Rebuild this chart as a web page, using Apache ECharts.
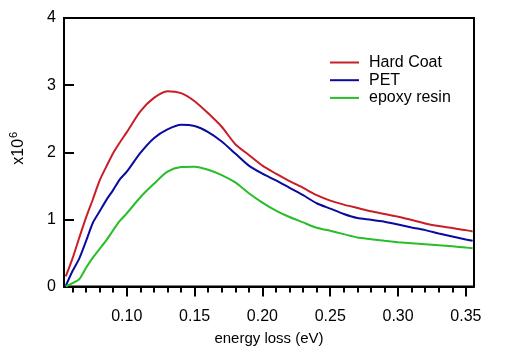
<!DOCTYPE html>
<html>
<head>
<meta charset="utf-8">
<script src="https://cdn.jsdelivr.net/npm/echarts@6/dist/echarts.min.js"></script>
<style>html,body{margin:0;padding:0;background:#fff}#c{width:510px;height:359px}</style>
</head>
<body>
<div id="c"></div>
<script>
const energy = [0.055,0.06,0.065,0.07,0.075,0.08,0.085,0.09,0.095,0.10,0.11,0.12,0.13,0.14,0.15,0.16,0.17,0.18,0.19,0.20,0.21,0.22,0.23,0.24,0.25,0.26,0.27,0.28,0.29,0.30,0.31,0.32,0.33,0.34,0.35,0.355];
const hardCoat = [0.15,0.42,0.73,1.03,1.30,1.58,1.79,1.99,2.15,2.30,2.61,2.81,2.91,2.88,2.76,2.58,2.38,2.12,1.96,1.80,1.68,1.57,1.47,1.36,1.28,1.22,1.17,1.12,1.08,1.04,0.99,0.94,0.90,0.87,0.84,0.82];
const pet = [0.01,0.23,0.42,0.68,0.95,1.12,1.29,1.44,1.60,1.71,1.99,2.21,2.34,2.41,2.39,2.30,2.16,1.98,1.80,1.68,1.58,1.47,1.36,1.24,1.16,1.08,1.02,0.995,0.966,0.925,0.88,0.84,0.79,0.745,0.70,0.68];
const epoxy = [0.0,0.05,0.11,0.28,0.43,0.56,0.69,0.84,0.98,1.09,1.33,1.53,1.71,1.78,1.785,1.74,1.66,1.55,1.39,1.25,1.13,1.035,0.955,0.875,0.83,0.78,0.73,0.705,0.68,0.66,0.645,0.63,0.615,0.60,0.58,0.57];
const seriesNames = ['Hard Coat','PET','epoxy resin'];
const xMajorTicks = [0.10,0.15,0.20,0.25,0.30,0.35];
const xMinorTicks = [0.06,0.07,0.08,0.09,0.11,0.12,0.13,0.14,0.16,0.17,0.18,0.19,0.21,0.22,0.23,0.24,0.26,0.27,0.28,0.29,0.31,0.32,0.33,0.34];
const yTicks = [0,1,2,3,4];

const xMin = 0.0537, xMax = 0.356;
const font = 'Liberation Sans, Arial, sans-serif';
const pair = ys => energy.map((x,i)=>[x, ys[i]]);
const colors = ['#c81e28','#0a0aa0','#28be28'];

const chart = echarts.init(document.getElementById('c'), null, {renderer:'canvas'});
chart.setOption({
  animation:false,
  backgroundColor:'#fff',
  grid:{left:62,top:18,width:412,height:268.5,show:true,borderColor:'#000',borderWidth:2,backgroundColor:'transparent'},
  legend:{
    left:330, top:54.5, padding:0, orient:'vertical', itemWidth:29, itemHeight:2, itemGap:1.7, icon:'rect',
    textStyle:{fontFamily:font,fontSize:16,color:'#000',padding:[0,0,0,5]},
    data:seriesNames
  },
  xAxis:[{
    type:'value', min:xMin, max:xMax, position:'bottom',
    axisLine:{lineStyle:{color:'#000',width:2}},
    axisTick:{customValues:xMajorTicks,length:10,lineStyle:{color:'#000',width:2}},
    axisLabel:{customValues:xMajorTicks,formatter:v=>v.toFixed(2),fontFamily:font,fontSize:16,color:'#000',margin:22},
    splitLine:{show:false},
    name:'energy loss (eV)', nameLocation:'middle', nameGap:45,
    nameTextStyle:{fontFamily:font,fontSize:15,color:'#000'}
  },{
    type:'value', min:xMin, max:xMax, position:'bottom', gridIndex:0,
    axisLine:{show:false},
    axisTick:{customValues:xMinorTicks,length:6,lineStyle:{color:'#000',width:2}},
    axisLabel:{show:false}, splitLine:{show:false}
  }],
  yAxis:{
    type:'value', min:0, max:4, interval:1,
    axisLine:{show:true,lineStyle:{color:'#000',width:2}},
    axisTick:{show:true,inside:true,length:10,lineStyle:{color:'#000',width:2}},
    axisLabel:{fontFamily:font,fontSize:16,color:'#000',margin:8},
    splitLine:{show:false},
    name:'x10{sup|6}', nameLocation:'middle', nameGap:35,
    nameTextStyle:{fontFamily:font,fontSize:16,color:'#000',padding:[0,0,0,8],
      rich:{sup:{fontFamily:font,fontSize:11,color:'#000',verticalAlign:'top',padding:[0,0,10,1]}}}
  },
  series:[hardCoat,pet,epoxy].map((ys,i)=>({
    name:seriesNames[i], type:'line', xAxisIndex:0, data:pair(ys),
    showSymbol:false, symbol:'none', smooth:0.25,
    lineStyle:{color:colors[i],width:2}, itemStyle:{color:colors[i]}
  }))
});
</script>
</body>
</html>
